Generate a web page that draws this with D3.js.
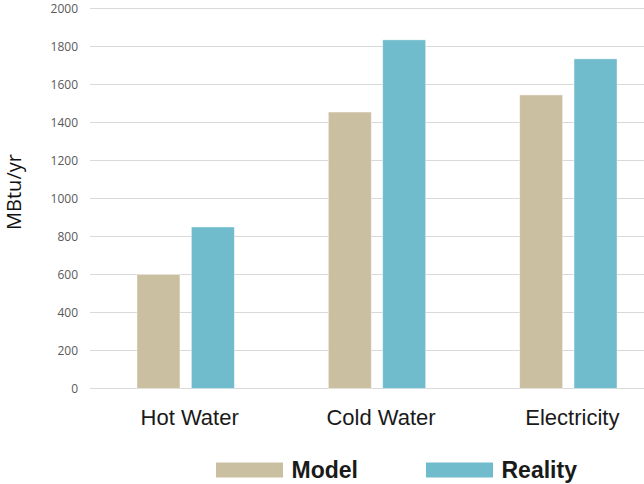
<!DOCTYPE html>
<html>
<head>
<meta charset="utf-8">
<script src="https://cdn.jsdelivr.net/npm/d3@7"></script>
<style>
  html, body { margin: 0; padding: 0; background: #fff; }
  svg { display: block; }
</style>
</head>
<body>
<svg id="chart" width="644" height="484"></svg>
<script>
// Annual energy use per end use: modelled vs. measured
const categories = ["Hot Water", "Cold Water", "Electricity"];
const seriesNames = ["Model", "Reality"];
const modelValues = [600, 1455, 1545];
const realityValues = [850, 1835, 1735];
const yTicks = [0, 200, 400, 600, 800, 1000, 1200, 1400, 1600, 1800, 2000];

const colors = { Model: "#CBBFA2", Reality: "#70BBCC" };

const rows = categories.map((c, i) => ({
  category: c,
  Model: modelValues[i],
  Reality: realityValues[i]
}));

const svg = d3.select("#chart");
const W = 644;

const x0 = d3.scaleBand()
  .domain(categories)
  .range([90, 664])
  .paddingInner(0)
  .paddingOuter(0);

const x1 = d3.scaleBand()
  .domain(seriesNames)
  .range([47, x0.bandwidth() - 47])
  .paddingInner(0.21)
  .paddingOuter(0);

const y = d3.scaleLinear()
  .domain([0, 2000])
  .range([388.5, 8.5]);

// Gridlines
const grid = svg.append("g");
grid.selectAll("line")
  .data(yTicks)
  .join("line")
  .attr("x1", 90)
  .attr("x2", W)
  .attr("y1", d => y(d))
  .attr("y2", d => y(d))
  .attr("stroke", "#D9D9D9")
  .attr("stroke-width", 1.2);

// Y axis tick labels
const yAxis = d3.axisLeft(y)
  .tickValues(yTicks)
  .tickSize(0)
  .tickPadding(0)
  .tickFormat(d3.format("d"));

const yg = svg.append("g")
  .attr("transform", "translate(78,0)")
  .call(yAxis);
yg.select(".domain").remove();
yg.selectAll("text")
  .attr("fill", "#595959")
  .attr("font-family", "'Open Sans', 'Liberation Sans', sans-serif")
  .attr("font-size", 12)
  .attr("dy", "0.35em");

// Y axis title
svg.append("text")
  .attr("transform", "translate(21,192) rotate(-90)")
  .attr("text-anchor", "middle")
  .attr("font-family", "'Open Sans', 'Liberation Sans', sans-serif")
  .attr("font-size", 20)
  .attr("fill", "#111")
  .text("MBtu/yr");

// Bars
const groups = svg.append("g")
  .selectAll("g")
  .data(rows)
  .join("g")
  .attr("transform", d => `translate(${x0(d.category)},0)`);

groups.selectAll("rect")
  .data(d => seriesNames.map(s => ({ series: s, value: d[s] })))
  .join("rect")
  .attr("x", d => x1(d.series))
  .attr("width", x1.bandwidth())
  .attr("y", d => y(d.value))
  .attr("height", d => y(0) - y(d.value))
  .attr("fill", d => colors[d.series])
  .attr("stroke", "#ffffff")
  .attr("stroke-opacity", 0.5)
  .attr("stroke-width", 0.8);

// Category labels
const xAxis = d3.axisBottom(x0).tickSize(0).tickPadding(0);
const xg = svg.append("g")
  .attr("transform", "translate(4,409)")
  .call(xAxis);
xg.select(".domain").remove();
xg.selectAll("text")
  .attr("fill", "#1a1a1a")
  .attr("font-family", "'Liberation Sans', Arial, sans-serif")
  .attr("font-size", 22)
  .attr("dy", "0.71em");

// Legend
const legendPos = { Model: 216, Reality: 426 };
const legend = svg.append("g")
  .selectAll("g")
  .data(seriesNames)
  .join("g")
  .attr("transform", d => `translate(${legendPos[d]},0)`);

legend.append("rect")
  .attr("x", 0)
  .attr("y", 462.5)
  .attr("width", 67)
  .attr("height", 15)
  .attr("fill", d => colors[d]);

legend.append("text")
  .attr("x", 75.5)
  .attr("y", 477.5)
  .attr("font-family", "'Liberation Sans', Arial, sans-serif")
  .attr("font-weight", "bold")
  .attr("font-size", 23)
  .attr("fill", "#1a1a1a")
  .text(d => d);
</script>
</body>
</html>
